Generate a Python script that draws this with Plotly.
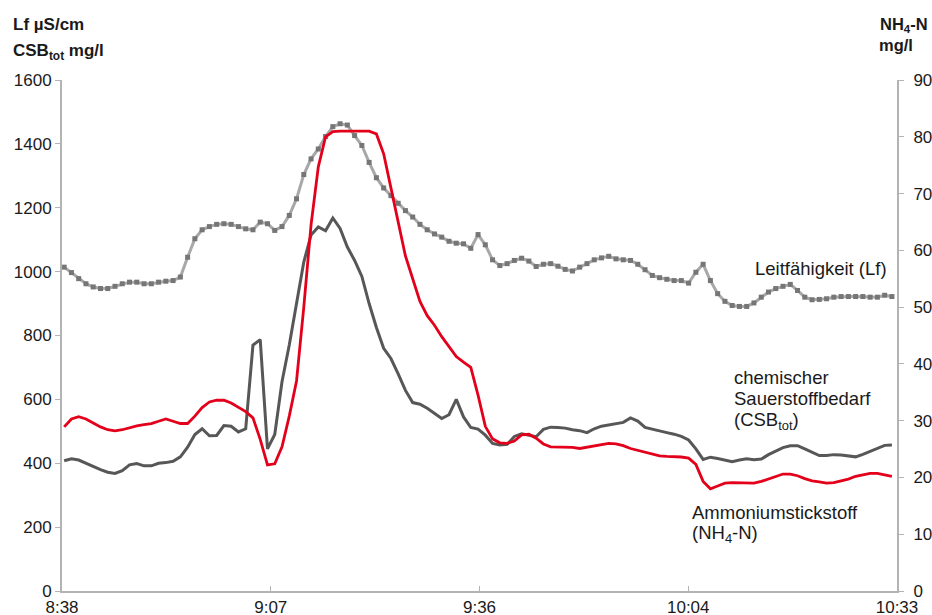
import plotly.graph_objects as go

# --- data (one sample per minute starting shortly after 8:38) ---
lf = [1014, 997, 978, 962, 952, 947, 947, 954, 962, 967, 967, 962, 962, 967, 970, 972, 983, 1045, 1103, 1131,
      1141, 1148, 1150, 1148, 1141, 1134, 1131, 1155, 1150, 1129, 1141, 1176, 1228, 1304, 1353, 1384, 1423, 1454, 1463, 1459,
      1426, 1395, 1342, 1294, 1262, 1238, 1214, 1191, 1171, 1148, 1131, 1118, 1108, 1095, 1089, 1087, 1073, 1116, 1084, 1037,
      1019, 1025, 1035, 1042, 1033, 1016, 1023, 1025, 1017, 1007, 1002, 1014, 1025, 1037, 1043, 1048, 1040, 1037, 1035, 1023,
      1006, 988, 981, 976, 972, 972, 964, 998, 1023, 972, 931, 907, 894, 891, 891, 902, 920, 936, 947, 954,
      960, 941, 920, 912, 913, 915, 920, 922, 922, 922, 922, 920, 920, 926, 922]

csb = [408, 414, 410, 400, 388, 380, 372, 368, 377, 395, 399, 392, 392, 400, 402, 406, 420, 450, 490, 508,
       486, 487, 518, 516, 498, 508, 770, 787, 445, 490, 655, 770, 900, 1030, 1115, 1140, 1128, 1168, 1135, 1077,
       1035, 985, 900, 825, 760, 728, 680, 628, 590, 585, 572, 556, 540, 552, 600, 545, 512, 507, 488, 462,
       457, 459, 484, 492, 488, 483, 506, 513, 512, 510, 505, 502, 496, 508, 516, 520, 523, 528, 542, 532,
       512, 506, 502, 496, 491, 484, 473, 445, 412, 419, 415, 410, 405, 410, 414, 411, 413, 427, 438, 449,
       455, 455, 445, 435, 424, 424, 427, 426, 423, 420, 428, 437, 447, 456, 457]

nh4 = [28.9, 30.3, 30.7, 30.3, 29.6, 28.9, 28.4, 28.2, 28.4, 28.8, 29.1, 29.3, 29.5, 29.9, 30.3, 29.9, 29.5, 29.5, 30.8, 32.3,
       33.3, 33.6, 33.6, 33.1, 32.3, 31.6, 30.5, 26.7, 22.2, 22.4, 25.4, 30.8, 37.0, 50.0, 64.5, 74.7, 80.0, 80.9, 81.0, 81.0,
       81.0, 81.0, 81.0, 80.5, 77.0, 71.0, 65.0, 59.0, 55.0, 51.0, 48.5, 46.8, 44.8, 43.0, 41.3, 40.3, 39.4, 34.5, 29.0, 26.8,
       26.1, 26.0, 26.4, 27.5, 27.6, 26.9, 25.9, 25.4, 25.4, 25.4, 25.3, 25.1, 25.3, 25.6, 25.8, 26.0, 25.9, 25.6, 25.1, 24.8,
       24.4, 24.1, 23.8, 23.7, 23.7, 23.6, 23.4, 22.3, 19.3, 18.0, 18.5, 19.0, 19.1, 19.1, 19.1, 19.0, 19.3, 19.7, 20.1, 20.6,
       20.6, 20.3, 19.8, 19.4, 19.2, 19.0, 19.1, 19.4, 19.7, 20.2, 20.5, 20.7, 20.7, 20.4, 20.2]

tick_labels = ["8:38", "9:07", "9:36", "10:04", "10:33"]
tick_minutes = [0, 28.75, 57.5, 86.25, 115]

minutes = [i + 0.3 for i in range(len(lf))]  # minutes after 8:38

FONT = "Liberation Sans, Arial, sans-serif"
TXT = "#1a1a1a"
AX = "#b3b3b3"

fig = go.Figure()
fig.add_trace(go.Scatter(x=minutes, y=lf, mode="lines+markers",
                         line=dict(color="#a8a8a8", width=3),
                         marker=dict(symbol="square", size=5, color="#767676"),
                         showlegend=False))
fig.add_trace(go.Scatter(x=minutes, y=csb, mode="lines",
                         line=dict(color="#575757", width=3),
                         showlegend=False))
fig.add_trace(go.Scatter(x=minutes, y=nh4, mode="lines", yaxis="y2",
                         line=dict(color="#e3001b", width=2.8),
                         showlegend=False))

axis_common = dict(showline=True, linecolor=AX, linewidth=2, showgrid=False, zeroline=False,
                   tickcolor=AX, ticklen=5, tickwidth=1,
                   tickfont=dict(family=FONT, size=17, color=TXT))

fig.update_layout(
    width=932, height=615,
    margin=dict(l=62, r=35, t=80, b=24, autoexpand=False),
    paper_bgcolor="white", plot_bgcolor="white",
    template="none",
    xaxis=dict(range=[0, 115], tickvals=tick_minutes, ticktext=tick_labels,
               ticks="inside", automargin=False, **axis_common),
    yaxis=dict(range=[0, 1600], dtick=200, ticks="outside", automargin=False, **axis_common),
    yaxis2=dict(range=[0, 90], dtick=10, ticks="outside", overlaying="y", side="right",
                automargin=False, ticklabelstandoff=6, **axis_common),
)

# helpers: screen pixel -> paper fraction (plot area spans x 62..897, y 80..591)
def px_x(px):
    return (px - 62) / 835.0

def px_y(py):
    return (591 - py) / 511.0

def note(text, x, y, anchor="left", bold=False, size=18):
    if bold:
        text = "<b>" + text + "</b>"
    fig.add_annotation(text=text, xref="paper", yref="paper", x=px_x(x), y=px_y(y),
                       xanchor=anchor, yanchor="middle", showarrow=False,
                       font=dict(family=FONT, size=size, color=TXT))

# axis titles
note("Lf µS/cm", 11, 24, bold=True, size=17)
note("CSB<sub>tot</sub> mg/l", 11, 52, bold=True, size=17)
note("NH<sub>4</sub>-N", 930, 25, anchor="right", bold=True, size=16.5)
note("mg/l", 877, 45, bold=True, size=16.5)

# series labels
note("Leitfähigkeit (Lf)", 889, 268, anchor="right", size=18.5)
note("chemischer", 732, 377, size=18.5)
note("Sauerstoffbedarf", 732, 398, size=18.5)
note("(CSB<sub>tot</sub>)", 732, 421, size=18.5)
note("Ammoniumstickstoff", 690, 512, size=18.5)
note("(NH<sub>4</sub>-N)", 690, 534, size=18.5)

# remove the default page margin so the figure fills the window exactly
fig.write_html("out.html",
               config={"displayModeBar": False},
               post_script="document.body.style.margin='0';document.body.style.overflow='hidden';")
